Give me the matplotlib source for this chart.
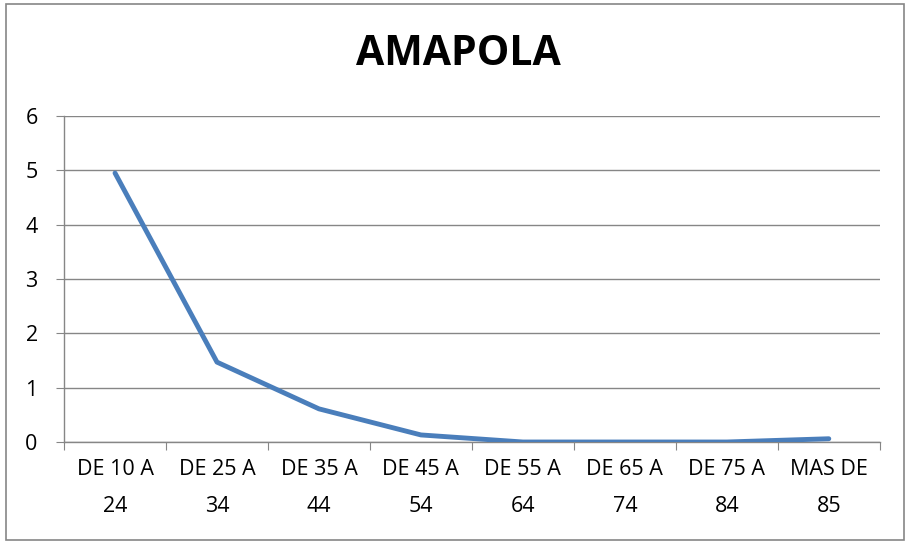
import matplotlib
matplotlib.use("Agg")
import matplotlib.pyplot as plt
from matplotlib.patches import Rectangle

plt.rcParams["font.family"] = ["Open Sans", "DejaVu Sans"]

# Datos
categorias = ["DE 10 A\n24", "DE 25 A\n34", "DE 35 A\n44", "DE 45 A\n54",
              "DE 55 A\n64", "DE 65 A\n74", "DE 75 A\n84", "MAS DE\n85"]
valores = [4.95, 1.47, 0.61, 0.13, 0.0, 0.0, 0.0, 0.06]
y_ticks = [0, 1, 2, 3, 4, 5, 6]

fig = plt.figure(figsize=(9.07, 5.42), dpi=100)
ax = fig.add_axes([0.0706, 0.1845, 0.8994, 0.6015])

x = range(len(categorias))
ax.plot(x, valores, color="#4a7ebb", linewidth=3.5, solid_joinstyle="round",
        solid_capstyle="round", zorder=3)

ax.set_xlim(-0.5, len(categorias) - 0.5)
ax.set_ylim(0, 6)
ax.set_yticks(y_ticks)
ax.yaxis.grid(True, color="#868686", linewidth=1)
ax.set_axisbelow(True)

ax.set_xticks([i - 0.5 for i in range(len(categorias) + 1)])
ax.set_xticklabels([])
ax.set_xticks(list(x), minor=True)
ax.set_xticklabels(categorias, minor=True, fontsize=15.5, linespacing=2.0)
ax.tick_params(axis="x", which="major", length=6, color="#868686", direction="out")
ax.tick_params(axis="x", which="minor", length=0, pad=12)
ax.tick_params(axis="y", length=6, color="#868686", labelsize=15.5, pad=13)

for side in ["top", "right"]:
    ax.spines[side].set_visible(False)
for side in ["left", "bottom"]:
    ax.spines[side].set_color("#868686")
    ax.spines[side].set_linewidth(1)

fig.text(0.505, 0.90, "AMAPOLA", ha="center", va="center", fontsize=29.5,
         fontweight="bold")

fig.patches.append(Rectangle((0.007, 0.004), 0.990, 0.989, transform=fig.transFigure,
                             fill=False, edgecolor="#868686", linewidth=1.2))

fig.savefig("out.png", dpi=100)
